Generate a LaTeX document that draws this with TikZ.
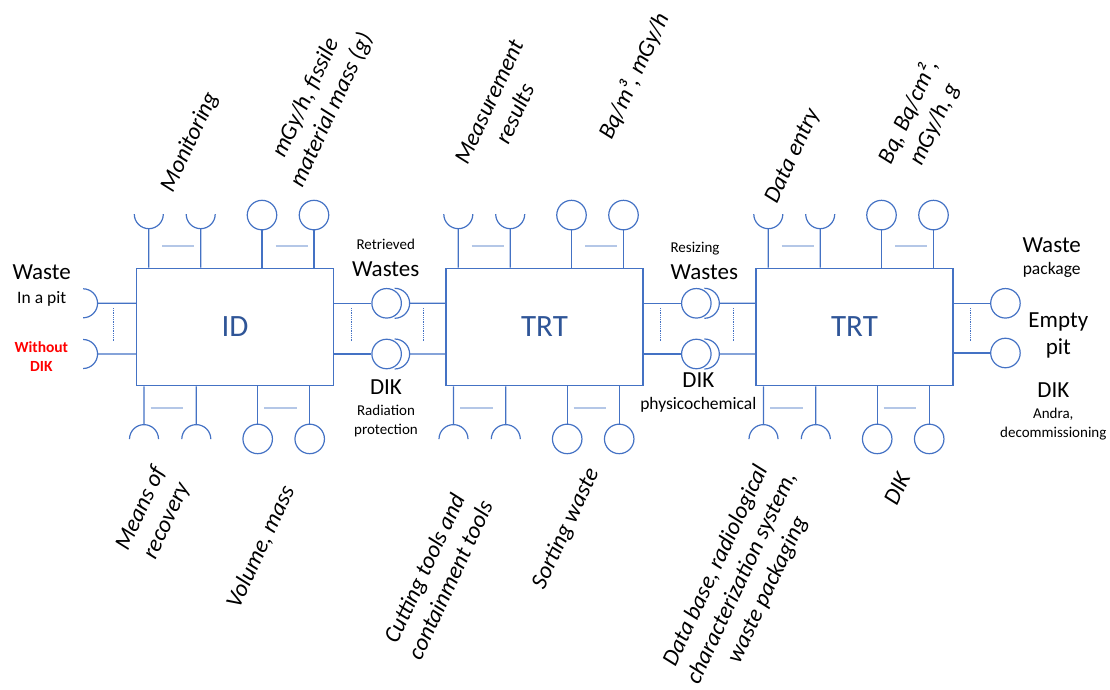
\documentclass[tikz,border=0pt]{standalone}
\usepackage{fontspec}
\setmainfont{Carlito}
\usetikzlibrary{positioning}
\definecolor{portblue}{RGB}{68,114,196}
\definecolor{paleblue}{RGB}{180,199,231}
\definecolor{nameblue}{RGB}{47,85,151}
\tikzset{block/.style = {draw=portblue, line width=1.25pt, minimum width=197pt,
                         minimum height=117.4pt, inner sep=0, text=nameblue,
                         font=\fontsize{31}{36}\selectfont}}
\tikzset{ball/.style = {draw=portblue, line width=1.2pt, circle, inner sep=0, minimum size=29.5pt}}
\tikzset{wire/.style = {draw=portblue, line width=1.2pt}}
\tikzset{tie/.style = {draw=paleblue, line width=1.4pt}}
\tikzset{guide/.style = {draw=portblue, line width=0.8pt, dash pattern=on 0.8pt off 1pt}}
\tikzset{tag/.style = {rotate=65, align=center, inner sep=0, font=\fontsize{23.5}{28.5}\selectfont\itshape}}
\tikzset{bigtext/.style = {inner sep=0, align=center, font=\fontsize{23}{27.6}\selectfont}}
\tikzset{midtext/.style = {inner sep=0, align=center, font=\fontsize{17.5}{21}\selectfont}}
\tikzset{smalltext/.style = {inner sep=0, align=center, font=\fontsize{15}{18.5}\selectfont}}
\tikzset{alert/.style = {inner sep=0, align=center, text=red, font=\fontsize{15.5}{19.3}\selectfont\bfseries}}

\begin{document}
\begin{tikzpicture}[x=10pt, y=-10pt]
  \useasboundingbox (0,0) rectangle (111,69);
  \node[block] (id) at (23.5,32.7) {ID};
  \node[block] (ta) at (54.45,32.7) {TRT};
  \node[block] (tb) at (85.45,32.7) {TRT};

  \foreach \b in {id,ta,tb} {
    \foreach \dx/\n in {-86.2/1,-34.3/2} {
      \coordinate (\b-t\n) at ([xshift=\dx pt, yshift=39pt]\b.north);
      \draw[wire] (\b-t\n |- \b.north) -- (\b-t\n) ++(-14.5pt,14.5pt)
        arc[start angle=180, end angle=360, radius=14.5pt];
    }
    \foreach \dx/\n in {27/3,79/4} {
      \node[ball] (\b-t\n) at ([xshift=\dx pt, yshift=52.6pt]\b.north) {};
      \draw[wire] (\b-t\n.south) -- (\b-t\n.south |- \b.north);
    }
    \foreach \dx/\n in {-91/1,-38.7/2} {
      \coordinate (\b-b\n) at ([xshift=\dx pt, yshift=-38.3pt]\b.south);
      \draw[wire] (\b-b\n |- \b.south) -- (\b-b\n) ++(-14.5pt,-14.5pt)
        arc[start angle=180, end angle=0, radius=14.5pt];
    }
    \foreach \dx/\n in {22.7/3,74.7/4} {
      \node[ball] (\b-b\n) at ([xshift=\dx pt, yshift=-52.6pt]\b.south) {};
      \draw[wire] (\b-b\n.north) -- (\b-b\n.north |- \b.south);
    }
    \draw[tie] ([xshift=-73pt, yshift=21.6pt]\b.north) -- ++(32.3pt,0);
    \draw[tie] ([xshift=40.5pt, yshift=21.6pt]\b.north) -- ++(32.3pt,0);
    \draw[tie] ([xshift=-84.3pt, yshift=-21.6pt]\b.south) -- ++(32.6pt,0);
    \draw[tie] ([xshift=29pt, yshift=-21.6pt]\b.south) -- ++(32.6pt,0);
  }

  \coordinate (pit) at ([xshift=-38.3pt, yshift=23.7pt]id.west);
  \coordinate (nodik) at ([xshift=-38.3pt, yshift=-27pt]id.west);
  \foreach \p in {pit,nodik}
    \draw[wire] (id.west |- \p) -- (\p) ++(-14.5pt,14.5pt)
      arc[start angle=90, end angle=-90, radius=14.5pt];

  \node[ball] (rw) at ([xshift=52.5pt, yshift=23.7pt]id.east) {};
  \node[ball] (rp) at ([xshift=52.5pt, yshift=-27pt]id.east) {};
  \node[ball] (zw) at ([xshift=52.7pt, yshift=23.7pt]ta.east) {};
  \node[ball] (zp) at ([xshift=52.7pt, yshift=-27pt]ta.east) {};
  \foreach \p/\l/\r in {rw/id/ta,rp/id/ta,zw/ta/tb,zp/ta/tb} {
    \coordinate (\p-cup) at ([xshift=23pt]\p.center);
    \draw[wire] (\l.east |- \p) -- (\p.west);
    \draw[wire] (\p-cup -| \r.west) -- (\p-cup) ++(-15pt,15pt)
      arc[start angle=90, end angle=-90, radius=15pt];
  }

  \node[ball] (pack) at ([xshift=51.8pt, yshift=23.7pt]tb.east) {};
  \node[ball] (empty) at ([xshift=51.8pt, yshift=-26pt]tb.east) {};
  \draw[wire] (tb.east |- pack) -- (pack.west);
  \draw[wire] (tb.east |- empty) -- (empty.west);

  \draw[guide] ([xshift=-22.7pt, yshift=19pt]id.west) -- ++(0,-34pt);
  \draw[guide] ([xshift=17pt, yshift=19pt]id.east) -- ++(0,-34pt);
  \draw[guide] ([xshift=-21.7pt, yshift=19pt]ta.west) -- ++(0,-34pt);
  \draw[guide] ([xshift=16.7pt, yshift=19pt]ta.east) -- ++(0,-34pt);
  \draw[guide] ([xshift=-21.7pt, yshift=19pt]tb.west) -- ++(0,-34pt);
  \draw[guide] ([xshift=16.3pt, yshift=19pt]tb.east) -- ++(0,-34pt);

  \node[bigtext] (wastel) at (4.17,27.2) {Waste};
  \node[midtext] (pitl) at (4.17,29.9) {In a pit};
  \node[alert] (nodikl) at (4.13,35.63) {Without\\DIK};
  \node[smalltext] (retr) at (38.57,24.4) {Retrieved};
  \node[bigtext] (wst1) at (38.57,26.9) {Wastes};
  \node[bigtext] (dik1) at (38.6,38.73) {DIK};
  \node[smalltext] (rad) at (38.6,42.1) {Radiation\\protection};
  \node[smalltext] (resz) at (69.5,24.83) {Resizing};
  \node[bigtext] (wst2) at (70.43,27.23) {Wastes};
  \node[bigtext] (dik2) at (69.83,38.0) {DIK};
  \node[midtext] (phys) at (69.83,40.5) {physicochemical};
  \node[bigtext] (waster) at (105.17,24.5) {Waste};
  \node[midtext] (packt) at (105.17,27.0) {package};
  \node[bigtext] (emptyt) at (105.83,33.55) {Empty\\pit};
  \node[bigtext] (dik3) at (105.33,39.0) {DIK};
  \node[smalltext] (andra) at (105.33,42.4) {Andra,\\decommissioning};

  \node[tag] (mon) at (19.0,14.2) {Monitoring};
  \node[tag] (fis) at (31.9,10.4) {mGy/h, fissile\\material mass (g)};
  \node[tag] (meas) at (50.2,10.8) {Measurement\\results};
  \node[tag] (bqm) at (63.4,7.6) {Bq/m³, mGy/h};
  \node[tag] (entry) at (79.3,15.6) {Data entry};
  \node[tag] (bqc) at (92.1,11.8) {Bq, Bq/cm²,\\mGy/h, g};
  \node[tag] (means) at (15.4,51.5) {Means of\\recovery};
  \node[tag] (vol) at (26.1,54.7) {Volume, mass};
  \node[tag] (cut) at (43.7,57.4) {Cutting tools and\\containment tools};
  \node[tag] (sort) at (56.6,52.9) {Sorting waste};
  \node[tag] (dbase) at (74.2,57.8) {Data base, radiological\\characterization system,\\waste packaging};
  \node[tag] (dikb) at (89.7,48.9) {DIK};
\end{tikzpicture}
\end{document}
